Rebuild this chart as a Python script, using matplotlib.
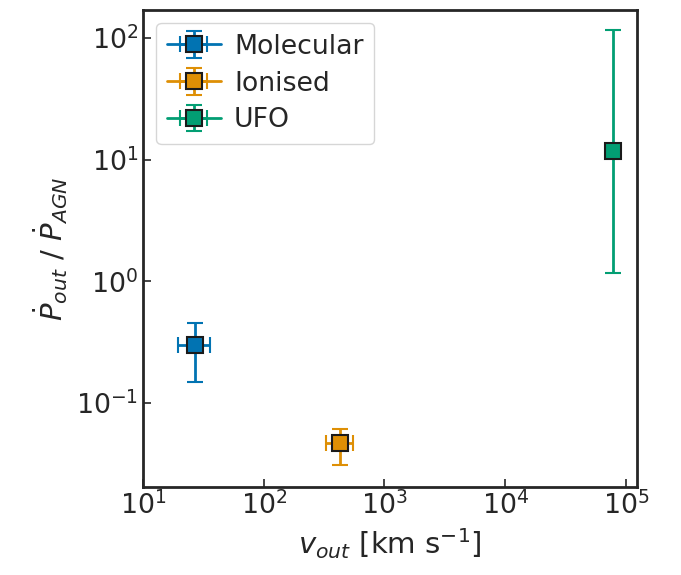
import numpy as np
import matplotlib.pyplot as plt
import seaborn as sns

sns.set_theme(style='ticks', font_scale=1.75)
plt.rcParams['font.family'] = ['DejaVu Sans']

labels = ['Molecular', 'Ionised', 'UFO']
v_out = [27, 432, 7.8e4]
v_lo = [19.5, 330, 7.8e4]
v_hi = [36, 550, 7.8e4]
p_ratio = [0.30, 0.0465, 11.7]
p_lo = [0.15, 0.031, 1.16]
p_hi = [0.45, 0.061, 116]
colors = sns.color_palette('colorblind')[:3]

fig, ax = plt.subplots(figsize=(6.81, 5.75), dpi=100)
for i in range(3):
    xerr = [[v_out[i] - v_lo[i]], [v_hi[i] - v_out[i]]]
    yerr = [[p_ratio[i] - p_lo[i]], [p_hi[i] - p_ratio[i]]]
    ax.errorbar([v_out[i]], [p_ratio[i]], xerr=xerr, yerr=yerr, fmt='-s', lw=2,
                color=colors[i], mfc=colors[i], mec='k', mew=1.5, ms=11,
                capsize=6, elinewidth=2, capthick=2, label=labels[i])
ax.set_xscale('log')
ax.set_yscale('log')
ax.set_xlim(10, 1.23e5)
ax.set_ylim(0.0204, 170)
ax.tick_params(which='both', direction='in', length=6, width=1.2)
ax.tick_params(which='minor', length=0)
for s in ax.spines.values():
    s.set_linewidth(2)
ax.set_xlabel(r'$v_{out}$ [km s$^{-1}$]')
ax.set_ylabel(r'$\dot{P}_{out}$ / $\dot{P}_{AGN}$')
ax.legend(loc='upper left', handletextpad=0.5, borderpad=0.4, labelspacing=0.4)
fig.subplots_adjust(left=0.21, right=0.935, top=0.983, bottom=0.153)
fig.savefig('out.png', dpi=100)
